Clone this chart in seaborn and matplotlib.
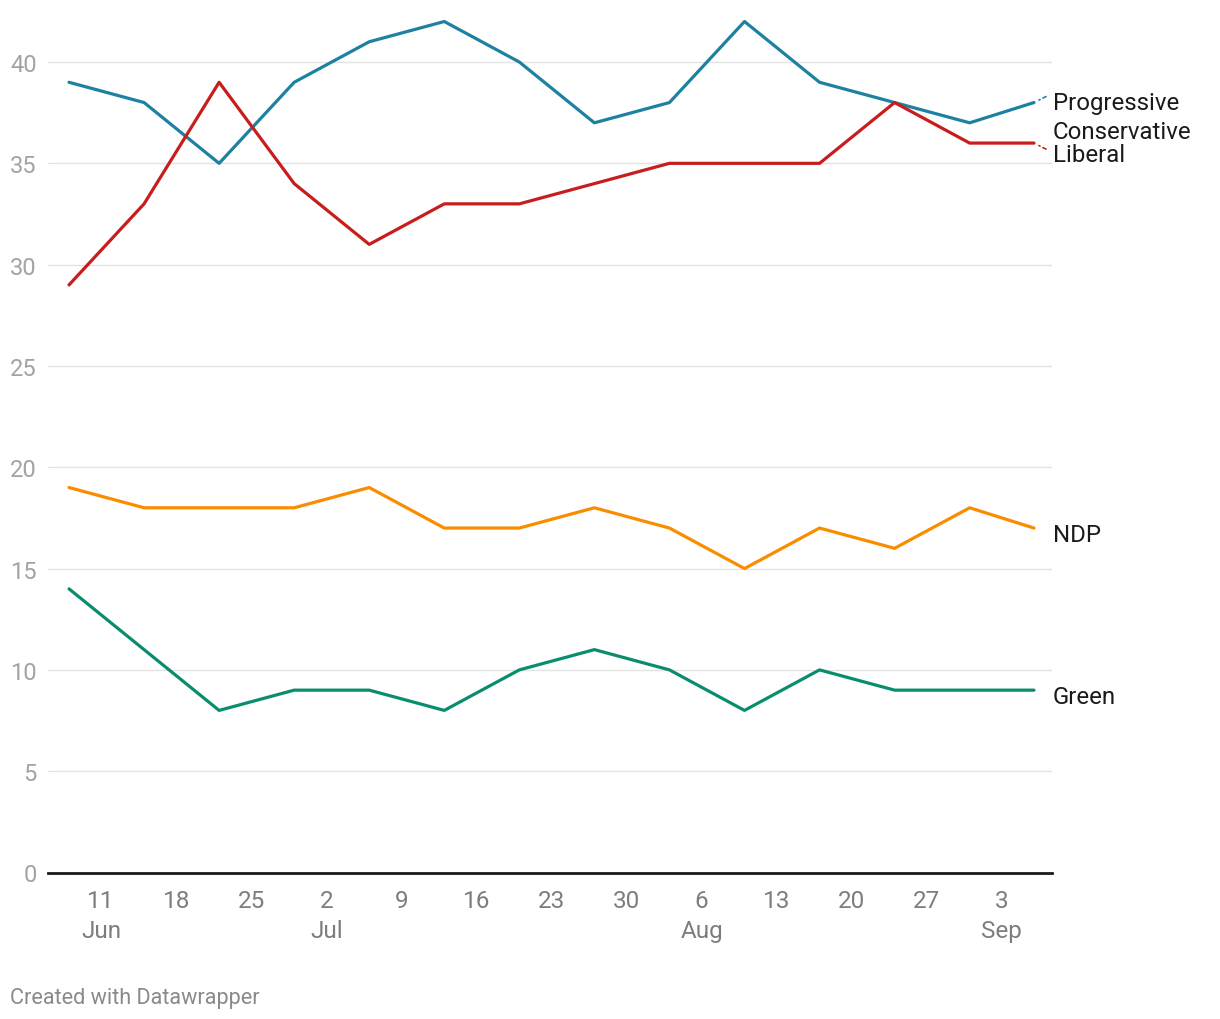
import matplotlib
matplotlib.use("Agg")
import matplotlib.pyplot as plt
import matplotlib.dates as mdates
import seaborn as sns
import pandas as pd

# ---- data ----
dates = ["2018-06-08", "2018-06-15", "2018-06-22", "2018-06-29", "2018-07-06",
         "2018-07-13", "2018-07-20", "2018-07-27", "2018-08-03", "2018-08-10",
         "2018-08-17", "2018-08-24", "2018-08-31", "2018-09-06"]
pc = [39, 38, 35, 39, 41, 42, 40, 37, 38, 42, 39, 38, 37, 38]
liberal = [29, 33, 39, 34, 31, 33, 33, 34, 35, 35, 35, 38, 36, 36]
ndp = [19, 18, 18, 18, 19, 17, 17, 18, 17, 15, 17, 16, 18, 17]
green = [14, 11, 8, 9, 9, 8, 10, 11, 10, 8, 10, 9, 9, 9]

parties = ["Progressive Conservative", "Liberal", "NDP", "Green"]
labels = ["Progressive\nConservative", "Liberal", "NDP", "Green"]
colors = ["#1d81a2", "#c71e1d", "#fa8c00", "#0a8d6e"]
yticks = [0, 5, 10, 15, 20, 25, 30, 35, 40]

series = [pc, liberal, ndp, green]
df = pd.concat([pd.DataFrame({"date": pd.to_datetime(dates), "value": v, "party": p})
                for p, v in zip(parties, series)], ignore_index=True)

sns.set_theme(style="white")
plt.rcParams['font.family'] = ['Roboto', 'DejaVu Sans']

W, H = 1220, 1020
fig = plt.figure(figsize=(W / 100, H / 100), dpi=100)
ax = fig.add_axes([48 / W, 1 - 873.5 / H, (1052 - 48) / W, (873.5 - 22.5) / H])

sns.lineplot(data=df, x="date", y="value", hue="party", hue_order=parties,
             palette=colors, linewidth=2.3, legend=False, ax=ax, clip_on=False)

d0 = pd.to_datetime(dates[0])
d1 = pd.to_datetime(dates[-1])
ax.set_xlim(d0 - pd.Timedelta(days=1.96), d1 + pd.Timedelta(days=1.68))
ax.set_ylim(0, 42)

# grid
ax.set_yticks(yticks)
for y in yticks[1:]:
    ax.axhline(y, color="#e3e3e3", lw=1, zorder=0)
for s in ["top", "right", "left"]:
    ax.spines[s].set_visible(False)
ax.spines["bottom"].set_color("#1a1a1a")
ax.spines["bottom"].set_linewidth(2)
ax.set_xlabel("")
ax.set_ylabel("")

ax.tick_params(axis="y", length=0, pad=8, labelsize=17, labelcolor="#a3a3a3")
ax.tick_params(axis="x", length=0, pad=12, labelsize=17.5, labelcolor="#7d7d7d")

ax.xaxis.set_major_locator(mdates.WeekdayLocator(byweekday=mdates.MO))

def fmt(x, pos):
    d = mdates.num2date(x)
    if d.day <= 7 or pos == 0:
        return f"{d.day}\n{d.strftime('%b')}"
    return f"{d.day}"

ax.xaxis.set_major_formatter(plt.FuncFormatter(fmt))
for t in ax.get_xticklabels():
    t.set_linespacing(1.37)
    t.set_verticalalignment("top")

# end labels
offsets = [(19, -14.5), (19, -11), (19, -6), (19, -6)]
for lab, v, c, off in zip(labels, series, colors, offsets):
    ax.annotate(lab, xy=(d1, v[-1]), xytext=off, textcoords="offset pixels",
                ha="left", va="center", fontsize=17.3, color="#1a1a1a",
                linespacing=1.32, annotation_clip=False)
# small connectors
ax.annotate("", xy=(d1, pc[-1]), xytext=(12, 6), textcoords="offset pixels",
            arrowprops=dict(arrowstyle="-", color=colors[0], lw=1.2, ls=(0, (2, 2)),
                            shrinkA=0, shrinkB=4), annotation_clip=False)
ax.annotate("", xy=(d1, liberal[-1]), xytext=(12, -6), textcoords="offset pixels",
            arrowprops=dict(arrowstyle="-", color=colors[1], lw=1.2, ls=(0, (2, 2)),
                            shrinkA=0, shrinkB=4), annotation_clip=False)

fig.text(10 / W, 1 - 999 / H, "Created with Datawrapper", ha="left", va="center",
         fontsize=15.6, color="#8a8a8a")

fig.savefig("out.png", dpi=100, facecolor="white")
